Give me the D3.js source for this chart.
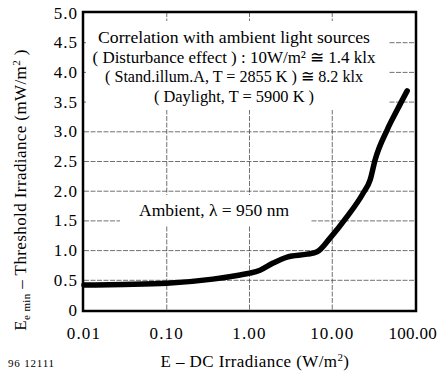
<!DOCTYPE html>
<html><head><meta charset="utf-8">
<script src="https://cdn.jsdelivr.net/npm/d3@7"></script>
<style>body{margin:0;background:#fff}svg{display:block}text{font-family:'Liberation Serif','DejaVu Serif',serif;fill:#000}</style>
</head><body><svg id="c" width="439" height="371" font-family="Liberation Serif, serif"></svg>
<script>
const irradiance = [0.01, 0.03, 0.1, 0.36, 0.77, 1.0, 1.34, 1.93, 2.85, 4.97, 6.56, 9.4, 15.1, 23.7, 28.7, 33, 46, 61, 80.5];
const threshold  = [0.42, 0.43, 0.45, 0.52, 0.59, 0.62, 0.67, 0.79, 0.89, 0.94, 0.98, 1.21, 1.57, 1.97, 2.19, 2.53, 3.03, 3.37, 3.69];
const xTicks = [0.01, 0.1, 1, 10, 100];
const xTickLabels = ["0.01", "0.10", "1.00", "10.00", "100.00"];
const yTicks = [0, 0.5, 1, 1.5, 2, 2.5, 3, 3.5, 4, 4.5, 5];
const yTickLabels = ["0", "0.5", "1.0", "1.5", "2.0", "2.5", "3.0", "3.5", "4.0", "4.5", "5.0"];
const noteLines = ["Correlation with ambient light sources",
  "( Disturbance effect ) : 10W/m\u00B2 \u2245 1.4 klx",
  "( Stand.illum.A, T = 2855 K ) \u2245 8.2 klx",
  "( Daylight, T = 5900 K )"];
const noteWidths = [272, 283, 258, 160];

const svg = d3.select("#c");
const x = d3.scaleLog().domain([0.01, 100]).range([84, 415]);
const y = d3.scaleLinear().domain([0, 5]).range([310, 13]);

// grid
const g = svg.append("g");
g.selectAll(".hg").data(yTicks.slice(1, -1)).join("line")
  .attr("x1", 84).attr("x2", 415).attr("y1", d => y(d)).attr("y2", d => y(d))
  .attr("stroke", "#333").attr("stroke-width", 0.7).attr("stroke-dasharray", "5,1.5");
g.selectAll(".vg").data(xTicks.slice(1, -1)).join("line")
  .attr("y1", 12).attr("y2", 310).attr("x1", d => x(d)).attr("x2", d => x(d))
  .attr("stroke", "#333").attr("stroke-width", 0.7).attr("stroke-dasharray", "5,1.5");

// white boxes behind annotations
svg.append("rect").attr("x", 86).attr("y", 21).attr("width", 302).attr("height", 89).attr("fill", "#fff");
svg.append("rect").attr("x", 120).attr("y", 195).attr("width", 190).attr("height", 31).attr("fill", "#fff");

// curve
const line = d3.line().x(d => x(d[0])).y(d => y(d[1])).curve(d3.curveMonotoneX);
svg.append("path").datum(irradiance.map((e, i) => [e, threshold[i]]))
  .attr("d", line).attr("fill", "none").attr("stroke", "#000")
  .attr("stroke-width", 5.5).attr("stroke-linecap", "round").attr("stroke-linejoin", "round");

// frame
svg.append("rect").attr("x", 83).attr("y", 12).attr("width", 333).attr("height", 299)
  .attr("fill", "none").attr("stroke", "#000").attr("stroke-width", 2.5);

// axes labels
svg.append("g").selectAll("text").data(yTicks).join("text")
  .attr("x", 78).attr("y", d => y(d) + 5.5).attr("text-anchor", "end")
  .attr("font-size", 17).attr("letter-spacing", 1).text((d, i) => yTickLabels[i]);
svg.append("g").selectAll("text").data(xTicks).join("text")
  .attr("x", (d, i) => i === xTicks.length - 1 ? 437 : x(d)).attr("y", 339)
  .attr("text-anchor", (d, i) => i === xTicks.length - 1 ? "end" : "middle")
  .attr("font-size", 17).attr("letter-spacing", (d, i) => i === xTicks.length - 1 ? 0.3 : 1.2)
  .text((d, i) => xTickLabels[i]);

// notes
svg.append("g").selectAll("text").data(noteLines).join("text")
  .attr("x", 234).attr("y", (d, i) => 43 + i * 19.5).attr("text-anchor", "middle")
  .attr("font-size", 17).attr("textLength", (d, i) => noteWidths[i]).attr("lengthAdjust", "spacingAndGlyphs")
  .text(d => d);
svg.append("text").attr("x", 214).attr("y", 216).attr("text-anchor", "middle")
  .attr("font-size", 17).attr("textLength", 150).attr("lengthAdjust", "spacingAndGlyphs")
  .text("Ambient, \u03BB = 950 nm");

// x title
const xt = svg.append("text").attr("x", 255).attr("y", 367).attr("text-anchor", "middle")
  .attr("font-size", 17).attr("letter-spacing", 0.4);
xt.append("tspan").text("E \u2013 DC Irradiance (W/m");
xt.append("tspan").attr("font-size", 11).attr("dy", -6).text("2");
xt.append("tspan").attr("dy", 6).text(")");

// y title
const yt = svg.append("text").attr("transform", "translate(26,190) rotate(-90)")
  .attr("text-anchor", "middle").attr("font-size", 17).attr("letter-spacing", 0.4);
yt.append("tspan").text("E");
yt.append("tspan").attr("font-size", 11).attr("dy", 4).text("e min");
yt.append("tspan").attr("dy", -4).text("  \u2013  Threshold Irradiance (mW/m");
yt.append("tspan").attr("font-size", 11).attr("dy", -6).text("2");
yt.append("tspan").attr("dy", 6).text(" )");

svg.append("text").attr("x", 8).attr("y", 367).attr("font-size", 11).attr("letter-spacing", 0.8).text("96 12111");
</script></body></html>
